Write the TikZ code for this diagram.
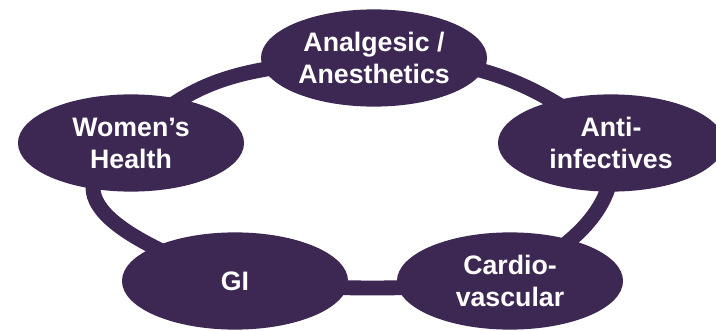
\documentclass[tikz,border=0pt]{standalone}
\usepackage{fontspec}
\setmainfont{Liberation Sans}
\definecolor{DeepPurple}{RGB}{60, 40, 82}
\usetikzlibrary{shapes.geometric, backgrounds}

\begin{document}
\begin{tikzpicture}[x=0.025cm, y=0.025cm,
    area/.style={ellipse, fill=DeepPurple, text=white, align=center, inner sep=0pt,
      minimum width=5.65cm, minimum height=2.43cm,
      font=\bfseries\fontsize{19}{22.7}\selectfont},
    ring/.style={DeepPurple, line width=10.6pt}]
    \useasboundingbox (0,0) rectangle (716,330);

    % therapy areas
    \node[area] (analg) at (374,272) {Analgesic /\\Anesthetics};
    \node[area] (anti) at (611,187) {Anti-\\infectives};
    \node[area] (cardio) at (510,49) {Cardio-\\vascular};
    \node[area] (gi) at (235,49) {GI};
    \node[area] (women) at (131,187) {Women’s\\Health};

    % ring linking them
    \begin{scope}[on background layer]
        \draw[ring] (analg.center) to[out=0, in=140] (anti.center)
            to[out=-80, in=30] (cardio.center)
            to[out=185, in=-5] (gi.center)
            to[out=160, in=-150, looseness=1.6] (women.center)
            to[out=50, in=185] (analg.center);
    \end{scope}
\end{tikzpicture}
\end{document}
